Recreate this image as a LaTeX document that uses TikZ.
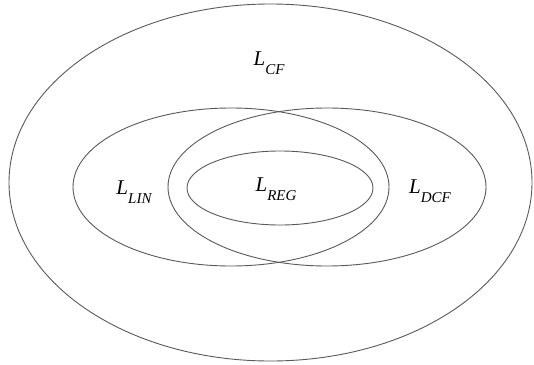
\documentclass[tikz,border=0pt]{standalone}
\usepackage{fontspec}
\setmainfont{Liberation Serif}
\newcommand{\setlbl}[2]{{\itshape #1}\raisebox{-0.4em}{\fontsize{15}{15}\selectfont\itshape #2}}
\begin{document}
\begin{tikzpicture}[x=1pt,y=-1pt,
  setline/.style={draw=black!65,line width=0.9pt},
  setlabel/.style={inner sep=0pt,font=\fontsize{21}{23}\selectfont}]
\useasboundingbox (0,0) rectangle (534,364);
\draw[setline] (270.5,182.5) ellipse [x radius=261.5, y radius=178.5];
\draw[setline] (231,187) ellipse [x radius=158, y radius=79];
\draw[setline] (327,187) ellipse [x radius=159, y radius=79];
\draw[setline] (280,188) ellipse [x radius=93, y radius=37];
\node[setlabel] (cf) at (269,63) {\setlbl{L}{CF}};
\node[setlabel] (lin) at (134,192) {\setlbl{L}{LIN}};
\node[setlabel] (reg) at (276,189) {\setlbl{L}{REG}};
\node[setlabel] (dcf) at (430,191) {\setlbl{L}{DCF}};
\end{tikzpicture}
\end{document}
